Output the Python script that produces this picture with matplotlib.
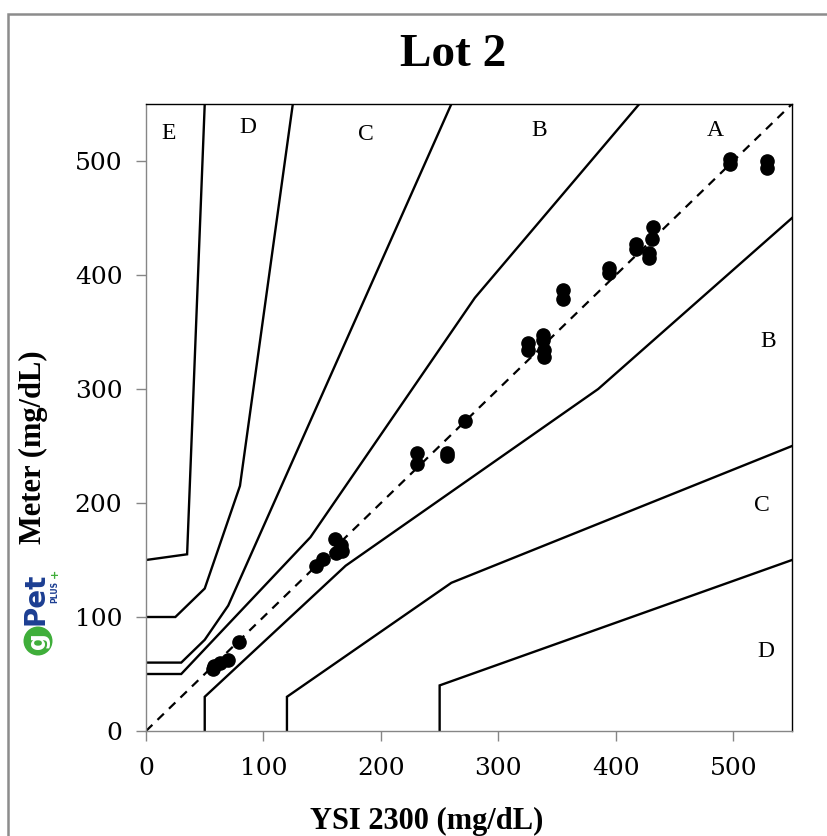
import matplotlib
matplotlib.use("Agg")
import matplotlib.pyplot as plt
from matplotlib.patches import Rectangle, Ellipse

# ---- data ----
ysi = [57, 58, 63, 70, 79,
       145, 151, 161, 162, 166, 167,
       231, 231, 256, 256, 272,
       325, 325, 338, 338, 339, 339, 355, 355,
       394, 394, 417, 417, 432, 431, 428, 428,
       497, 497, 529, 529]
meter = [54, 57, 60, 62, 78,
         145, 151, 168, 156, 163, 158,
         244, 234, 244, 241, 272,
         340, 334, 347, 343, 334, 328, 387, 379,
         406, 402, 427, 423, 442, 432, 419, 415,
         502, 497, 500, 494]

# zone boundaries (x, y)
a_upper_x = [0, 30, 140, 280, 420]
a_upper_y = [50, 50, 170, 380, 550]
a_lower_x = [50, 50, 170, 385, 550]
a_lower_y = [0, 30, 145, 300, 450]
b_upper_x = [0, 30, 50, 70, 260]
b_upper_y = [60, 60, 80, 110, 550]
b_lower_x = [120, 120, 260, 550]
b_lower_y = [0, 30, 130, 250]
c_upper_x = [0, 25, 50, 80, 125]
c_upper_y = [100, 100, 125, 215, 550]
c_lower_x = [250, 250, 550]
c_lower_y = [0, 40, 150]
d_upper_x = [0, 35, 50]
d_upper_y = [150, 155, 550]

zone_labels = ["E", "D", "C", "B", "A", "B", "C", "D"]
zone_lx = [19, 87, 187, 335, 485, 530, 524, 528]
zone_ly = [524, 529, 523, 527, 527, 342, 198, 70]

ticks = [0, 100, 200, 300, 400, 500]

# ---- figure ----
fig = plt.figure(figsize=(8.27, 8.36), dpi=100)
ax = fig.add_axes([146/827, 1-731/836, 646/827, 627/836])

for xs, ys in [(a_upper_x, a_upper_y), (a_lower_x, a_lower_y),
               (b_upper_x, b_upper_y), (b_lower_x, b_lower_y),
               (c_upper_x, c_upper_y), (c_lower_x, c_lower_y),
               (d_upper_x, d_upper_y)]:
    ax.plot(xs, ys, color="black", lw=1.7, solid_joinstyle="miter", zorder=2)

ax.plot([0, 550], [0, 550], color="black", lw=1.6, dashes=(4, 3.2), zorder=2)
ax.plot(ysi, meter, "o", color="black", ms=9.5, zorder=3)

for t, lx, ly in zip(zone_labels, zone_lx, zone_ly):
    ax.text(lx, ly, t, ha="center", va="center", fontsize=17,
            family="Liberation Serif")

ax.set_xlim(0, 550)
ax.set_ylim(0, 550)
ax.set_xticks(ticks)
ax.set_yticks(ticks)
ax.tick_params(direction="out", length=7, width=1, color="#868686",
               labelsize=18)
ax.tick_params(axis="y", pad=10)
ax.tick_params(axis="x", pad=12)
for lab in ax.get_xticklabels() + ax.get_yticklabels():
    lab.set_family("DejaVu Serif")

ax.spines["left"].set_color("#868686")
ax.spines["bottom"].set_color("#868686")
ax.spines["top"].set_color("black")
ax.spines["right"].set_color("black")
for s in ax.spines.values():
    s.set_linewidth(1.0)

ax.set_xlabel("YSI 2300 (mg/dL)", fontsize=22, fontweight="bold",
              family="Liberation Serif")
ax.xaxis.set_label_coords(0.435, -0.121)
ax.set_ylabel("Meter (mg/dL)", fontsize=22, fontweight="bold",
              family="Liberation Serif")
ax.yaxis.set_label_coords(-0.152, 0.452)

fig.text(453/827, 1-55/836, "Lot 2", ha="center", va="center",
         fontsize=34, fontweight="bold", family="Liberation Serif")

# chart-area border
fig.patches.append(Rectangle((8/827, -0.05), 1.2, 1-14/836+0.05,
                             transform=fig.transFigure, fill=False,
                             edgecolor="#8c8c8c", lw=1.8))

# logo
fig.patches.append(Ellipse((38/827, 1-641/836), 29/827, 29/836,
                           transform=fig.transFigure, facecolor="#3fae3a",
                           edgecolor="none"))
fig.text(38/827, 1-641/836, "g", rotation=90, ha="center", va="center",
         color="white", fontsize=17, fontweight="bold", family="DejaVu Sans")
fig.text(35/827, 1-599/836, "Pet", rotation=90, ha="center", va="center",
         color="#1c3e92", fontsize=20, fontweight="bold", family="DejaVu Sans")
fig.text(55/827, 1-592/836, "PLUS", rotation=90, ha="center", va="center",
         color="#1c3e92", fontsize=5.5, fontweight="bold", family="DejaVu Sans")
fig.text(55/827, 1-573/836, "+", rotation=90, ha="center", va="center",
         color="#3fae3a", fontsize=8, fontweight="bold", family="DejaVu Sans")

fig.savefig("out.png", dpi=100)
